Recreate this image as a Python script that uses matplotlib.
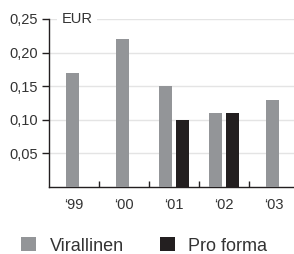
import numpy as np
import matplotlib
matplotlib.use("Agg")
import matplotlib.pyplot as plt
from matplotlib.ticker import FuncFormatter

plt.rcParams['font.family'] = ['Liberation Sans', 'DejaVu Sans']

years = ["‘99", "‘00", "‘01", "‘02", "‘03"]
virallinen = [0.17, 0.22, 0.15, 0.11, 0.13]
pro_forma = [np.nan, np.nan, 0.10, 0.11, np.nan]

gray = "#939598"
black = "#231f20"
txt = "#333333"

fig = plt.figure(figsize=(2.94, 2.54), dpi=100)
ax = fig.add_axes([49 / 294, 1 - 187 / 254, 1 - 49 / 294, (187 - 19) / 254])

x = np.arange(len(years))
w = 0.27
off = 0.17
has_pf = ~np.isnan(pro_forma)
gx = np.where(has_pf, x - off, x - 0.03)
b1 = ax.bar(gx, virallinen, width=w, color=gray, label="Virallinen", zorder=3)
b2 = ax.bar(x[has_pf] + off, np.array(pro_forma)[has_pf], width=w, color=black,
            label="Pro forma", zorder=3)

ax.set_xlim(-0.5, 4.4)
ax.set_ylim(0, 0.25)
ax.set_yticks([0.05, 0.10, 0.15, 0.20, 0.25])
ax.yaxis.set_major_formatter(FuncFormatter(lambda v, p: f"{v:.2f}".replace(".", ",")))
ax.set_xticks(x)
ax.set_xticklabels(years)
ax.set_xticks(x[:-1] + 0.5, minor=True)
ax.tick_params(axis='x', which='major', length=0, pad=8, labelsize=10.5, labelcolor=txt)
ax.tick_params(axis='x', which='minor', direction='in', length=4, width=1, color=black)
ax.tick_params(axis='y', direction='out', length=5, width=1, pad=3, labelsize=10.5,
               labelcolor=txt, color=black)

for s in ['top', 'right']:
    ax.spines[s].set_visible(False)
for s in ['left', 'bottom']:
    ax.spines[s].set_color(black)
    ax.spines[s].set_linewidth(1)
ax.grid(axis='y', color='#e4e4e4', linewidth=1, zorder=0)
ax.set_axisbelow(True)

ax.text(-0.25, 0.25, "EUR", fontsize=10.5, color=txt, va='center', ha='left', zorder=4,
        bbox=dict(facecolor='white', edgecolor='none', pad=3))

fig.legend(handles=[b1, b2], loc='center left', bbox_to_anchor=(21 / 294, 1 - 246 / 254),
           ncol=2, frameon=False, fontsize=13, handlelength=0.83, handleheight=0.83,
           handletextpad=0.75, columnspacing=2.0, labelcolor=txt,
           borderpad=0, borderaxespad=0)

fig.savefig("out.png", dpi=100)
